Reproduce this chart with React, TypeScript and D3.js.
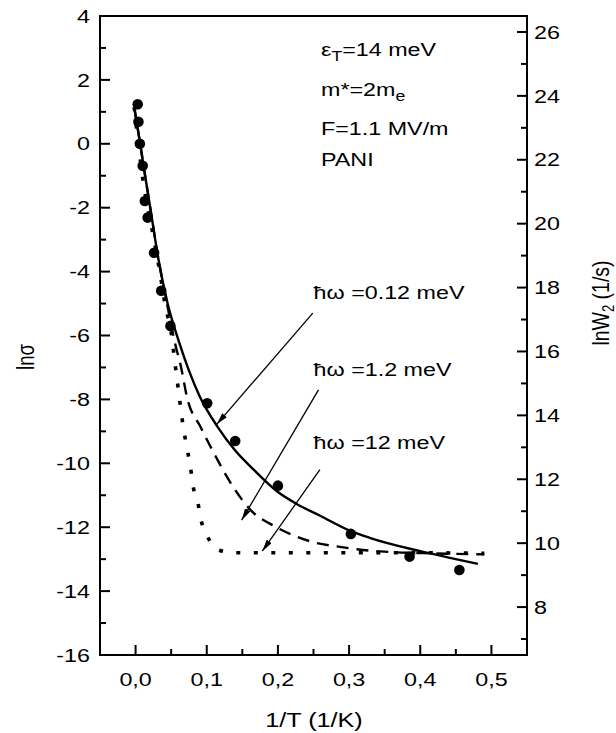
import React from "react";
import * as d3 from "d3";

// ---- data ----
const measuredX = [0.003, 0.004, 0.006, 0.010, 0.013, 0.017, 0.026, 0.036, 0.049, 0.1006, 0.140, 0.200, 0.3025, 0.385, 0.455];
const measuredY = [1.24, 0.69, 0.0, -0.69, -1.79, -2.31, -3.41, -4.60, -5.70, -8.12, -9.30, -10.70, -12.21, -12.92, -13.34];

const solidX = [-0.002, 0.005, 0.012, 0.022, 0.032, 0.045, 0.061, 0.075, 0.09, 0.115, 0.14, 0.166, 0.2, 0.227, 0.26, 0.3, 0.33, 0.4, 0.44, 0.481];
const solidY = [1.15, 0.2, -0.8, -2.2, -3.6, -5.0, -6.2, -7.1, -7.9, -8.85, -9.6, -10.2, -10.9, -11.28, -11.65, -12.1, -12.34, -12.75, -12.95, -13.15];

const dashedX = [-0.002, 0.005, 0.012, 0.022, 0.032, 0.045, 0.056, 0.063, 0.073, 0.091, 0.11, 0.138, 0.161, 0.196, 0.227, 0.255, 0.283, 0.311, 0.36, 0.42, 0.49];
const dashedY = [1.15, 0.2, -0.8, -2.2, -3.6, -5.1, -6.3, -6.9, -8.0, -8.85, -9.68, -10.77, -11.45, -11.98, -12.3, -12.5, -12.6, -12.69, -12.78, -12.82, -12.85];

const dottedX = [-0.002, 0.011, 0.025, 0.034, 0.042, 0.05, 0.055, 0.059, 0.067, 0.072, 0.077, 0.081, 0.087, 0.091, 0.1, 0.115, 0.138, 0.2, 0.3, 0.4, 0.49];
const dottedY = [1.15, -1.23, -2.9, -4.0, -5.1, -5.9, -6.8, -7.5, -8.86, -9.5, -10.1, -10.74, -11.15, -11.68, -12.24, -12.7, -12.8, -12.8, -12.8, -12.8, -12.82];

const xTicks = [0, 0.1, 0.2, 0.3, 0.4, 0.5];
const xMinor = [0.05, 0.15, 0.25, 0.35, 0.45];
const yLeftTicks = [4, 2, 0, -2, -4, -6, -8, -10, -12, -14, -16];
const yLeftMinor = [3, 1, -1, -3, -5, -7, -9, -11, -13, -15];
const yRightTicks = [8, 10, 12, 14, 16, 18, 20, 22, 24, 26];
const yRightMinor = [7, 9, 11, 13, 15, 17, 19, 21, 23, 25];

const arrowLabels = ["=0.12 meV", "=1.2 meV", "=12 meV"];
// arrow start / end in data coords (x, lnσ)
const arrowFrom = [[0.249, -5.3], [0.257, -7.7], [0.259, -10.2]];
const arrowTo = [[0.114, -8.78], [0.149, -11.78], [0.178, -12.75]];
const labelAt = [[0.25, -4.85], [0.25, -7.28], [0.25, -9.55]];

const FONT = "'Liberation Sans', Arial, Helvetica, sans-serif";
const SX = 1.26; // horizontal stretch of the reference glyphs

function Txt(props: { x: number; y: number; size: number; anchor?: string; dy?: string; rotate?: boolean; children: React.ReactNode }) {
  const { x, y, size, anchor, dy, rotate, children } = props;
  const tr = rotate
    ? `translate(${x},${y}) scale(${SX},1) rotate(-90)`
    : `translate(${x},${y}) scale(${SX},1)`;
  return (
    <text transform={tr} fontSize={size} textAnchor={anchor || "start"} dy={dy}>
      {children}
    </text>
  );
}

export default function App() {
  const W = 616, H = 733;
  const L = 100, R = 527, T = 16, B = 655;
  const x = d3.scaleLinear().domain([-0.05, 0.55]).range([L, R]);
  const y = d3.scaleLinear().domain([-16, 4]).range([B, T]);
  const y2 = d3.scaleLinear().domain([6.5, 26.5]).range([B, T]);

  const line = d3
    .line<[number, number]>()
    .x((d) => x(d[0]))
    .y((d) => y(d[1]))
    .curve(d3.curveMonotoneX);

  const zip = (a: number[], b: number[]) => a.map((v, i) => [v, b[i]] as [number, number]);

  const fs = 18.5;

  return (
    <svg
      width={W}
      height={H}
      style={{ position: "absolute", left: 0, top: 0, background: "#fff" }}
      fontFamily={FONT}
    >
      <defs>
        <marker id="ah" viewBox="0 0 12 6" refX="12" refY="3" markerWidth="12" markerHeight="6" markerUnits="userSpaceOnUse" orient="auto">
          <path d="M0,0 L12,3 L0,6 Z" fill="#000" />
        </marker>
      </defs>
      <rect x={0} y={0} width={W} height={H} fill="#fff" />

      {/* curves */}
      <path d={line(zip(dottedX, dottedY)) || ""} fill="none" stroke="#000" strokeWidth={3.6} strokeDasharray="4 13.5" />
      <path d={line(zip(dashedX, dashedY)) || ""} fill="none" stroke="#000" strokeWidth={2.4} strokeDasharray="12 8" />
      <path d={line(zip(solidX, solidY)) || ""} fill="none" stroke="#000" strokeWidth={2.4} />

      {/* measured points */}
      {measuredX.map((v, i) => (
        <circle key={i} cx={x(v)} cy={y(measuredY[i])} r={5.3} fill="#000" />
      ))}

      {/* arrows */}
      {arrowFrom.map((f, i) => (
        <line key={i} x1={x(f[0])} y1={y(f[1])} x2={x(arrowTo[i][0])} y2={y(arrowTo[i][1])} stroke="#000" strokeWidth={1.3} markerEnd="url(#ah)" />
      ))}
      {labelAt.map((p, i) => (
        <Txt key={i} x={x(p[0])} y={y(p[1])} size={fs}>
          ħω {arrowLabels[i]}
        </Txt>
      ))}

      {/* parameters */}
      <Txt x={321} y={56} size={fs}>
        ε<tspan fontSize={14} dy={5}>T</tspan><tspan dy={-5}>=14 meV</tspan>
      </Txt>
      <Txt x={321} y={96} size={fs}>
        m*=2m<tspan fontSize={14} dy={5}>e</tspan>
      </Txt>
      <Txt x={321} y={135} size={fs}>F=1.1 MV/m</Txt>
      <Txt x={321} y={166} size={fs}>PANI</Txt>

      {/* frame */}
      <rect x={L} y={T} width={R - L} height={B - T} fill="none" stroke="#000" strokeWidth={2} />

      {/* bottom axis ticks */}
      {xTicks.map((t) => (
        <g key={t}>
          <line x1={x(t)} x2={x(t)} y1={B} y2={B - 10} stroke="#000" strokeWidth={2} />
          <Txt x={x(t)} y={686} size={fs} anchor="middle">
            {d3.format(".1f")(t).replace(".", ",")}
          </Txt>
        </g>
      ))}
      {xMinor.map((t) => (
        <line key={t} x1={x(t)} x2={x(t)} y1={B} y2={B - 6} stroke="#000" strokeWidth={2} />
      ))}

      {/* left axis */}
      {yLeftTicks.map((t) => (
        <g key={t}>
          <line x1={L} x2={L + 10} y1={y(t)} y2={y(t)} stroke="#000" strokeWidth={2} />
          <Txt x={90} y={y(t)} dy="0.36em" size={fs} anchor="end">
            {t}
          </Txt>
        </g>
      ))}
      {yLeftMinor.map((t) => (
        <line key={t} x1={L} x2={L + 6} y1={y(t)} y2={y(t)} stroke="#000" strokeWidth={2} />
      ))}

      {/* right axis */}
      {yRightTicks.map((t) => (
        <g key={t}>
          <line x1={R} x2={R - 10} y1={y2(t)} y2={y2(t)} stroke="#000" strokeWidth={2} />
          <Txt x={534} y={y2(t)} dy="0.36em" size={fs}>
            {t}
          </Txt>
        </g>
      ))}
      {yRightMinor.map((t) => (
        <line key={t} x1={R} x2={R - 6} y1={y2(t)} y2={y2(t)} stroke="#000" strokeWidth={2} />
      ))}

      {/* axis titles */}
      <Txt x={314} y={727} size={20} anchor="middle">1/T (1/K)</Txt>
      <Txt x={34} y={357} size={18.5} anchor="middle" rotate>lnσ</Txt>
      <Txt x={609} y={303} size={19.5} anchor="middle" rotate>
        lnW<tspan fontSize={13} dy={4}>2</tspan><tspan dy={-4}> (1/s)</tspan>
      </Txt>
    </svg>
  );
}
